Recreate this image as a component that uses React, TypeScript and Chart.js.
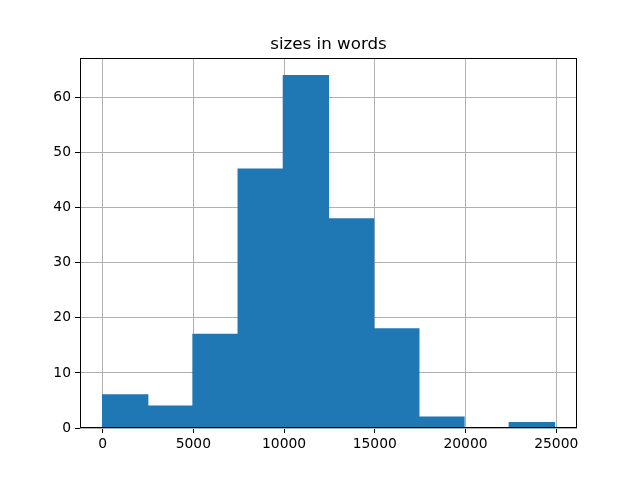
import React, { useEffect, useRef } from "react";
import { Chart, registerables } from "chart.js";

Chart.register(...registerables);

const TITLE = "sizes in words";
const BIN_EDGES = [0, 2490, 4980, 7470, 9960, 12450, 14940, 17430, 19920, 22410, 24900];
const COUNTS = [6, 4, 17, 47, 64, 38, 18, 2, 0, 1];
const X_TICKS = [0, 5000, 10000, 15000, 20000, 25000];
const Y_TICKS = [0, 10, 20, 30, 40, 50, 60];
const X_MIN = -1245;
const X_MAX = 26145;
const Y_MAX = 67.2;

const FONT = "'DejaVu Sans', sans-serif";

const framePlugin = {
  id: "frame",
  afterDraw(chart: any) {
    const { ctx, chartArea } = chart;
    ctx.save();
    ctx.strokeStyle = "#000";
    ctx.lineWidth = 1;
    ctx.strokeRect(
      Math.round(chartArea.left) + 0.5,
      Math.round(chartArea.top) + 0.5,
      Math.round(chartArea.right - chartArea.left) - 1,
      Math.round(chartArea.bottom - chartArea.top) - 1
    );
    ctx.fillStyle = "#000";
    ctx.font = `16.67px ${FONT}`;
    ctx.textAlign = "center";
    ctx.textBaseline = "alphabetic";
    ctx.fillText(TITLE, (chartArea.left + chartArea.right) / 2, 49);
    ctx.restore();
  },
};

export default function App() {
  const ref = useRef<HTMLCanvasElement>(null);
  useEffect(() => {
    if (!ref.current) return;
    const data = COUNTS.map((c, i) => ({
      x: (BIN_EDGES[i] + BIN_EDGES[i + 1]) / 2,
      y: c,
    }));
    const chart = new Chart(ref.current, {
      type: "bar",
      data: {
        datasets: [
          {
            data,
            backgroundColor: "#1f77b4",
            borderWidth: 0,
            inflateAmount: 0.6,
            barPercentage: 1,
            categoryPercentage: 1,
          } as any,
        ],
      },
      options: {
        animation: false,
        responsive: false,
        layout: { padding: { top: 58, right: 63, left: 0, bottom: 0 } },
        plugins: { legend: { display: false }, tooltip: { enabled: false }, title: { display: false } },
        scales: {
          x: {
            type: "linear",
            min: X_MIN,
            max: X_MAX,
            offset: false,
            z: 1,
            afterBuildTicks: (axis: any) => {
              axis.ticks = X_TICKS.map((v) => ({ value: v }));
            },
            afterFit: (axis: any) => {
              axis.height = 52;
            },
            grid: {
              color: "#b0b0b0",
              lineWidth: 1,
              drawTicks: true,
              tickLength: 5,
              tickColor: "#000",
              offset: false,
            },
            border: { display: false },
            ticks: {
              autoSkip: false,
              maxRotation: 0,
              padding: 3,
              color: "#000",
              font: { family: FONT, size: 13.89 },
              callback: (v: any) => String(v),
            },
          },
          y: {
            type: "linear",
            min: 0,
            max: Y_MAX,
            z: 1,
            afterBuildTicks: (axis: any) => {
              axis.ticks = Y_TICKS.map((v) => ({ value: v }));
            },
            afterFit: (axis: any) => {
              axis.width = 80;
            },
            grid: {
              color: "#b0b0b0",
              lineWidth: 1,
              drawTicks: true,
              tickLength: 5,
              tickColor: "#000",
            },
            border: { display: false },
            ticks: {
              padding: 4,
              color: "#000",
              font: { family: FONT, size: 13.89 },
              callback: (v: any) => String(v),
            },
          },
        },
      },
      plugins: [framePlugin],
    });
    return () => chart.destroy();
  }, []);
  return (
    <div style={{ position: "fixed", left: 0, top: 0, width: 640, height: 480, background: "#fff" }}>
      <canvas ref={ref} width={640} height={480} />
    </div>
  );
}
